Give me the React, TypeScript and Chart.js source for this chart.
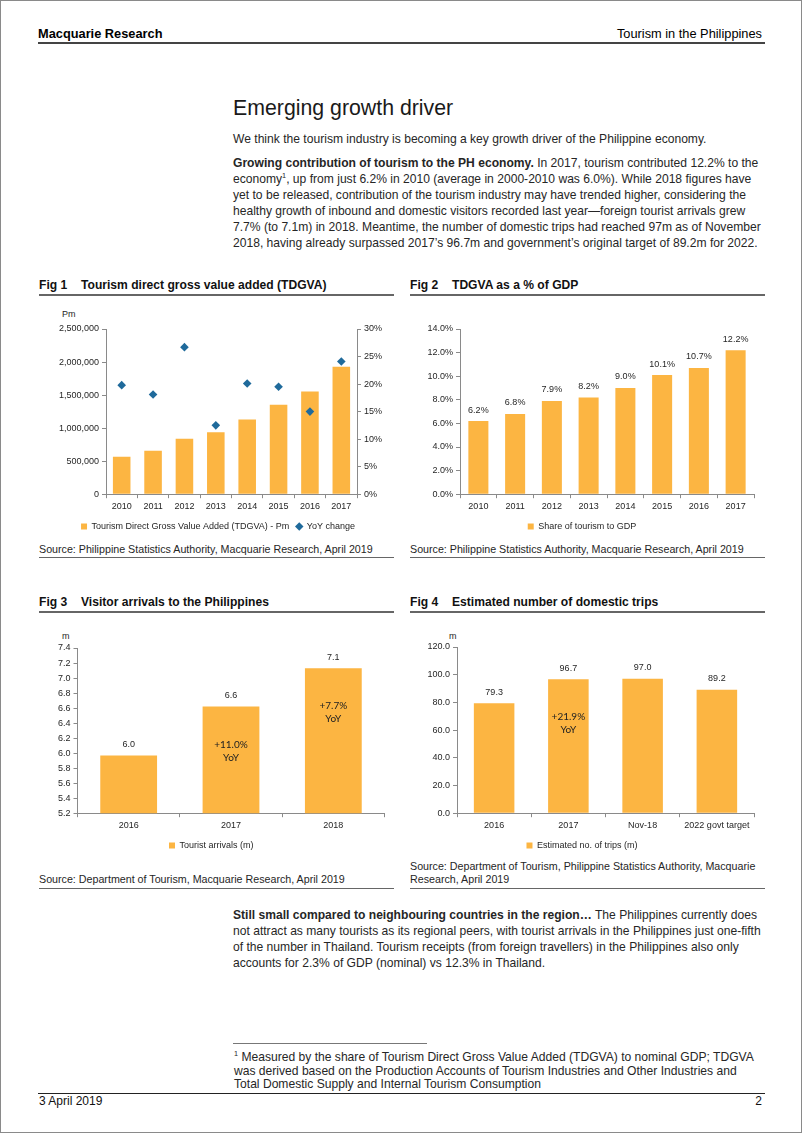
import React, { useEffect, useRef } from 'react';
import { Chart, registerables } from 'chart.js';

Chart.register(...registerables);

// ---------------- data ----------------
const fig1Years = ['2010', '2011', '2012', '2013', '2014', '2015', '2016', '2017'];
const fig1Tdgva = [566000, 657000, 838000, 939000, 1131000, 1354000, 1556000, 1929000];
const fig1YoyPct = [19.8, 18.1, 26.7, 12.5, 20.1, 19.5, 15.0, 24.1];

const fig2Years = ['2010', '2011', '2012', '2013', '2014', '2015', '2016', '2017'];
const fig2SharePct = [6.2, 6.8, 7.9, 8.2, 9.0, 10.1, 10.7, 12.2];

const fig3Years = ['2016', '2017', '2018'];
const fig3Arrivals = [5.97, 6.62, 7.13];
const fig3YoyNotes = ['', '+11.0%', '+7.7%'];

const fig4Periods = ['2016', '2017', 'Nov-18', '2022 govt target'];
const fig4Trips = [79.3, 96.7, 97.0, 89.2];
const fig4YoyNotes = ['', '+21.9%', '', ''];

// ---------------- styles ----------------
const FONT = '"Liberation Sans", Arial, Helvetica, sans-serif';
const NOTE_FONT = 'Lato, "Open Sans", sans-serif';
const BAR = '#FCB542';
const DIAMOND = '#1F6A9B';
const AXIS = '#8a8a8a';
const TICK_TXT = '#262626';
const BODY_TXT = '#262626';

Chart.defaults.font.family = FONT;

const tickFont = { family: FONT, size: 9 };

function yAxis(min: number, max: number, step: number, fmt: (v: number) => string, width: number, position: string) {
  return {
    type: 'linear',
    position,
    min,
    max,
    ticks: {
      stepSize: step,
      callback: (v: any) => fmt(Number(v)),
      font: tickFont,
      color: TICK_TXT,
      padding: 3,
    },
    grid: { drawOnChartArea: false, drawTicks: true, tickLength: 4, color: AXIS, tickColor: AXIS },
    border: { display: true, color: AXIS, width: 1 },
    afterFit: (s: any) => {
      s.width = width;
    },
  };
}

const xAxis = {
  type: 'category',
  offset: true,
  grid: { drawOnChartArea: false, drawTicks: true, tickLength: 4, color: AXIS, tickColor: AXIS, offset: true },
  border: { display: true, color: AXIS, width: 1 },
  ticks: { font: tickFont, color: TICK_TXT, padding: 3, maxRotation: 0, autoSkip: false },
};

const legendOpts = {
  position: 'bottom',
  labels: {
    usePointStyle: true,
    boxWidth: 6,
    boxHeight: 6,
    font: { family: FONT, size: 9 },
    color: TICK_TXT,
    padding: 7,
    sort: (a: any, b: any) => a.datasetIndex - b.datasetIndex,
  },
};

function valueLabels(fmt: (v: number) => string) {
  return {
    id: 'valueLabels',
    afterDatasetsDraw(chart: any) {
      const { ctx } = chart;
      const ds = chart.data.datasets[0];
      const meta = chart.getDatasetMeta(0);
      ctx.save();
      ctx.font = `9px ${FONT}`;
      ctx.fillStyle = TICK_TXT;
      ctx.textAlign = 'center';
      ctx.textBaseline = 'middle';
      meta.data.forEach((bar: any, i: number) => {
        ctx.fillText(fmt(ds.data[i]), bar.x, bar.y - 11);
      });
      ctx.restore();
    },
  };
}

function innerNotes(notes: string[]) {
  return {
    id: 'innerNotes',
    afterDatasetsDraw(chart: any) {
      const { ctx } = chart;
      const meta = chart.getDatasetMeta(0);
      ctx.save();
      ctx.font = `10px ${NOTE_FONT}`;
      ctx.fillStyle = '#222';
      ctx.textAlign = 'center';
      ctx.textBaseline = 'middle';
      notes.forEach((n, i) => {
        if (!n) return;
        const bar: any = meta.data[i];
        ctx.fillText(n, bar.x, bar.y + 38);
        ctx.fillText('YoY', bar.x, bar.y + 51);
      });
      ctx.restore();
    },
  };
}

const fmtInt = (v: number) => v.toLocaleString('en-US');
const fmtPct0 = (v: number) => `${Math.round(v)}%`;
const fmtPct1 = (v: number) => `${v.toFixed(1)}%`;
const fmt1 = (v: number) => v.toFixed(1);

function fig1Config() {
  return {
    type: 'bar',
    data: {
      labels: fig1Years,
      datasets: [
        {
          type: 'bar',
          label: 'Tourism Direct Gross Value Added (TDGVA) - Pm',
          data: fig1Tdgva,
          backgroundColor: BAR,
          borderWidth: 0,
          yAxisID: 'y',
          barPercentage: 0.56,
          categoryPercentage: 1,
          pointStyle: 'rect',
          order: 2,
        },
        {
          type: 'line',
          label: 'YoY change',
          data: fig1YoyPct,
          yAxisID: 'y1',
          showLine: false,
          pointStyle: 'rectRot',
          pointRadius: 4.3,
          pointBackgroundColor: DIAMOND,
          pointBorderColor: DIAMOND,
          pointBorderWidth: 0,
          backgroundColor: DIAMOND,
          borderColor: DIAMOND,
          order: 1,
        },
      ],
    },
    options: {
      responsive: false,
      animation: false,
      layout: { padding: { top: 10, left: 0, right: 0, bottom: 0 } },
      scales: {
        x: xAxis,
        y: yAxis(0, 2500000, 500000, fmtInt, 68, 'left'),
        y1: yAxis(0, 30, 5, fmtPct0, 41, 'right'),
      },
      plugins: { legend: legendOpts, tooltip: { enabled: false } },
    },
  };
}

function fig2Config() {
  return {
    type: 'bar',
    data: {
      labels: fig2Years,
      datasets: [
        {
          label: 'Share of tourism to GDP',
          data: fig2SharePct,
          backgroundColor: BAR,
          borderWidth: 0,
          barPercentage: 0.545,
          categoryPercentage: 1,
          pointStyle: 'rect',
        },
      ],
    },
    options: {
      responsive: false,
      animation: false,
      layout: { padding: { top: 10, left: 0, right: 11, bottom: 0 } },
      scales: { x: xAxis, y: yAxis(0, 14, 2, fmtPct1, 50, 'left') },
      plugins: { legend: legendOpts, tooltip: { enabled: false } },
    },
    plugins: [valueLabels(fmtPct1)],
  };
}

function fig3Config() {
  return {
    type: 'bar',
    data: {
      labels: fig3Years,
      datasets: [
        {
          label: 'Tourist arrivals (m)',
          data: fig3Arrivals,
          backgroundColor: BAR,
          borderWidth: 0,
          barPercentage: 0.555,
          categoryPercentage: 1,
          pointStyle: 'rect',
        },
      ],
    },
    options: {
      responsive: false,
      animation: false,
      layout: { padding: { top: 10, left: 0, right: 8.5, bottom: 0 } },
      scales: { x: xAxis, y: yAxis(5.2, 7.4, 0.2, fmt1, 39.5, 'left') },
      plugins: { legend: legendOpts, tooltip: { enabled: false } },
    },
    plugins: [valueLabels(fmt1), innerNotes(fig3YoyNotes)],
  };
}

function fig4Config() {
  return {
    type: 'bar',
    data: {
      labels: fig4Periods,
      datasets: [
        {
          label: 'Estimated no. of trips (m)',
          data: fig4Trips,
          backgroundColor: BAR,
          borderWidth: 0,
          barPercentage: 0.546,
          categoryPercentage: 1,
          pointStyle: 'rect',
        },
      ],
    },
    options: {
      responsive: false,
      animation: false,
      layout: { padding: { top: 10, left: 0, right: 11, bottom: 0 } },
      scales: { x: xAxis, y: yAxis(0, 120, 20, fmt1, 47, 'left') },
      plugins: { legend: legendOpts, tooltip: { enabled: false } },
    },
    plugins: [valueLabels(fmt1), innerNotes(fig4YoyNotes)],
  };
}

function ChartBox({ make, left, top, width, height }: any) {
  const ref = useRef<HTMLCanvasElement>(null);
  useEffect(() => {
    const chart = new Chart(ref.current as HTMLCanvasElement, make() as any);
    return () => chart.destroy();
  }, []);
  return (
    <canvas
      ref={ref}
      width={width}
      height={height}
      style={{ position: 'absolute', left, top, width, height }}
    />
  );
}

function Txt({ x, y, size = 12, lh = 16, bold = false, right, color = BODY_TXT, children, style }: any) {
  const s: any = {
    position: 'absolute',
    top: y,
    fontFamily: FONT,
    fontSize: size,
    lineHeight: `${lh}px`,
    fontWeight: bold ? 'bold' : 'normal',
    color,
    whiteSpace: 'nowrap',
    ...style,
  };
  if (right !== undefined) {
    s.right = 802 - right;
    s.textAlign = 'right';
  } else s.left = x;
  return <div style={s}>{children}</div>;
}

function Rule({ x, y, w, h = 1, color = '#666' }: any) {
  return <div style={{ position: 'absolute', left: x, top: y, width: w, height: h, background: color }} />;
}

function FigTitle({ x, y, num, title }: any) {
  return (
    <>
      <Txt x={x} y={y} size={12.1} bold color="#111">
        Fig {num}
      </Txt>
      <Txt x={x + 42} y={y} size={12.1} bold color="#111">
        {title}
      </Txt>
    </>
  );
}

const sup: any = { fontSize: '0.6em', verticalAlign: 'super', lineHeight: 0 };

export default function App() {
  return (
    <div
      style={{
        position: 'absolute',
        left: 0,
        top: 0,
        width: 802,
        height: 1133,
        boxSizing: 'border-box',
        border: '1px solid #8a8a8a',
        background: '#fff',
        overflow: 'hidden',
        fontFamily: FONT,
      }}
    >
      {/* header */}
      <Txt x={37} y={26} size={12.8} lh={14} bold color="#000">
        Macquarie Research
      </Txt>
      <Txt right={763} y={26} size={12.8} lh={14} color="#000">
        Tourism in the Philippines
      </Txt>
      <Rule x={37} y={41} w={727} h={1.5} color="#444" />

      {/* intro */}
      <Txt x={232} y={95} size={21.3} lh={24} color="#1a1a1a">
        Emerging growth driver
      </Txt>
      <Txt x={232} y={130} size={12.1}>
        We think the tourism industry is becoming a key growth driver of the Philippine economy.
      </Txt>
      <Txt x={232} y={154} size={12.1}>
        <b>Growing contribution of tourism to the PH economy.</b> In 2017, tourism contributed 12.2% to the
        <br />
        economy<span style={sup}>1</span>, up from just 6.2% in 2010 (average in 2000-2010 was 6.0%). While 2018 figures have
        <br />
        yet to be released, contribution of the tourism industry may have trended higher, considering the
        <br />
        healthy growth of inbound and domestic visitors recorded last year—foreign tourist arrivals grew
        <br />
        7.7% (to 7.1m) in 2018. Meantime, the number of domestic trips had reached 97m as of November
        <br />
        2018, having already surpassed 2017’s 96.7m and government’s original target of 89.2m for 2022.
      </Txt>

      {/* Fig 1 & 2 */}
      <FigTitle x={38} y={276} num={1} title="Tourism direct gross value added (TDGVA)" />
      <Rule x={38} y={293} w={355} h={1.5} color="#666" />
      <FigTitle x={409} y={276} num={2} title="TDGVA as a % of GDP" />
      <Rule x={409} y={293} w={355} h={1.5} color="#666" />

      <Txt x={61} y={307.5} size={9} lh={11} color={TICK_TXT}>
        Pm
      </Txt>
      <ChartBox make={fig1Config} left={37} top={318} width={360} height={222} />
      <ChartBox make={fig2Config} left={409} top={318} width={355} height={222} />

      <Txt x={38} y={541.5} size={10.7} lh={13}>
        Source: Philippine Statistics Authority, Macquarie Research, April 2019
      </Txt>
      <Rule x={38} y={556} w={355} h={1} color="#666" />
      <Txt x={409} y={541.5} size={10.7} lh={13}>
        Source: Philippine Statistics Authority, Macquarie Research, April 2019
      </Txt>
      <Rule x={409} y={556} w={355} h={1} color="#666" />

      {/* Fig 3 & 4 */}
      <FigTitle x={38} y={593} num={3} title="Visitor arrivals to the Philippines" />
      <Rule x={38} y={610} w={355} h={1.5} color="#666" />
      <FigTitle x={409} y={593} num={4} title="Estimated number of domestic trips" />
      <Rule x={409} y={610} w={355} h={1.5} color="#666" />

      <Txt x={61} y={629.5} size={9} lh={11} color={TICK_TXT}>
        m
      </Txt>
      <Txt x={448} y={629.5} size={9} lh={11} color={TICK_TXT}>
        m
      </Txt>
      <ChartBox make={fig3Config} left={37} top={637} width={355} height={222} />
      <ChartBox make={fig4Config} left={409} top={636} width={355} height={223} />

      <Txt x={38} y={871.5} size={10.7} lh={13}>
        Source: Department of Tourism, Macquarie Research, April 2019
      </Txt>
      <Rule x={38} y={887} w={355} h={1} color="#666" />
      <Txt x={409} y={858.5} size={10.7} lh={13}>
        Source: Department of Tourism, Philippine Statistics Authority, Macquarie
        <br />
        Research, April 2019
      </Txt>
      <Rule x={409} y={887} w={355} h={1} color="#666" />

      {/* closing paragraph */}
      <Txt x={232} y={906} size={12.1}>
        <b>Still small compared to neighbouring countries in the region…</b> The Philippines currently does
        <br />
        not attract as many tourists as its regional peers, with tourist arrivals in the Philippines just one-fifth
        <br />
        of the number in Thailand. Tourism receipts (from foreign travellers) in the Philippines also only
        <br />
        accounts for 2.3% of GDP (nominal) vs 12.3% in Thailand.
      </Txt>

      {/* footnote */}
      <Rule x={232} y={1042} w={194} h={1} color="#777" />
      <Txt x={233} y={1050} size={12.1} lh={13.5}>
        <span style={sup}>1</span> Measured by the share of Tourism Direct Gross Value Added (TDGVA) to nominal GDP; TDGVA
        <br />
        was derived based on the Production Accounts of Tourism Industries and Other Industries and
        <br />
        Total Domestic Supply and Internal Tourism Consumption
      </Txt>

      {/* footer */}
      <Rule x={37} y={1092} w={727} h={1} color="#222" />
      <Txt x={38} y={1093} size={12} lh={14} color="#111">
        3 April 2019
      </Txt>
      <Txt right={763} y={1093} size={12} lh={14} color="#111">
        2
      </Txt>
    </div>
  );
}
